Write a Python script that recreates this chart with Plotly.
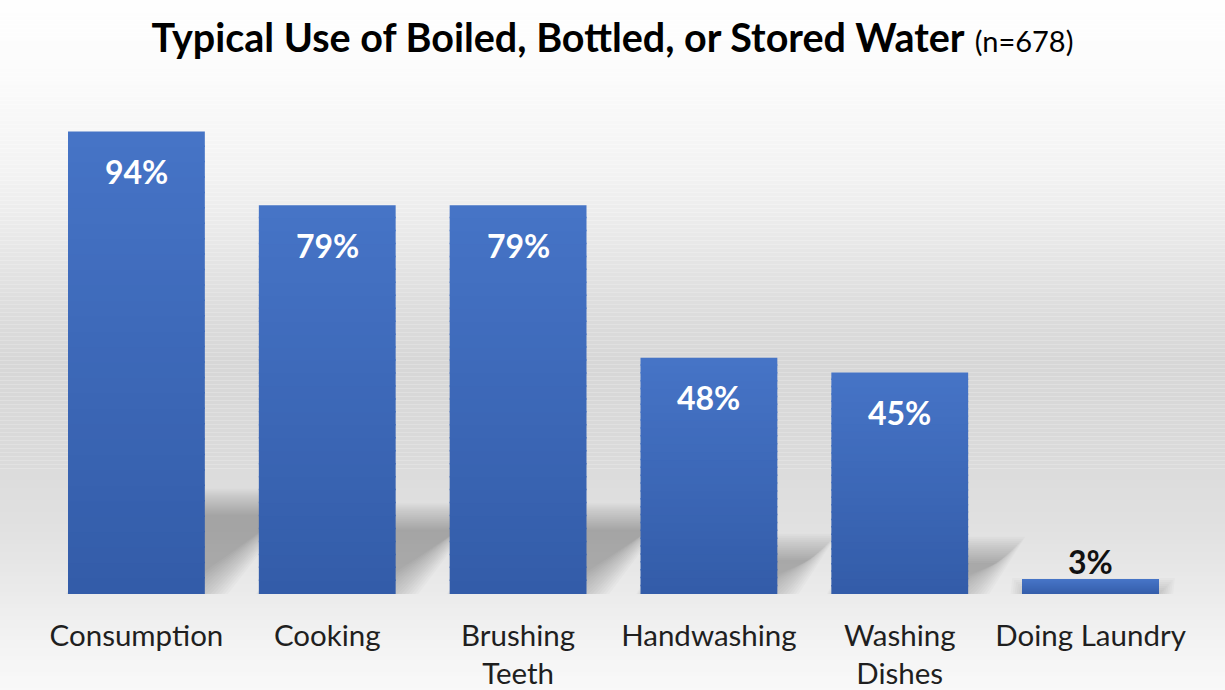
import plotly.graph_objects as go

# ---- data ----
categories = ["Consumption", "Cooking", "Brushing<br>Teeth", "Handwashing",
              "Washing<br>Dishes", "Doing Laundry"]
percent = [94, 79, 79, 48, 45, 3]
title_main = "Typical Use of Boiled, Bottled, or Stored Water"
title_note = "(n=678)"

# ---- geometry / style ----
W, H = 1225, 690
M_L, M_R, M_T, M_B = 41, 38.5, 101.5, 96
Y_MAX = 100
BAR_W = 0.717
FONT = "Lato"
TOP_RGB = (70, 116, 199)
BOT_RGB = (51, 92, 168)
N_SEG = 30

plot_w = W - M_L - M_R
plot_h = H - M_T - M_B
px_x = plot_w / len(categories)      # pixels per category unit
px_y = plot_h / Y_MAX                # pixels per percent

xs = list(range(len(categories)))

fig = go.Figure()

# bars with a vertical gradient: each bar split into thin stacked slices;
# every slice reaches slightly into the next one so no seams show
overlap = 1.5 / px_y
for s in range(N_SEG):
    t = (s + 0.5) / N_SEG  # 0 bottom -> 1 top
    r = round(BOT_RGB[0] + (TOP_RGB[0] - BOT_RGB[0]) * t)
    g = round(BOT_RGB[1] + (TOP_RGB[1] - BOT_RGB[1]) * t)
    b = round(BOT_RGB[2] + (TOP_RGB[2] - BOT_RGB[2]) * t)
    extra = overlap if s < N_SEG - 1 else 0
    fig.add_trace(go.Bar(
        x=xs,
        y=[min(v / N_SEG + extra, v - v * s / N_SEG) for v in percent],
        base=[v * s / N_SEG for v in percent],
        width=BAR_W,
        marker=dict(color=f"rgb({r},{g},{b})", line=dict(width=0)),
        hoverinfo="skip",
        showlegend=False,
    ))

shapes = []

# page background: vertical grey gradient (light top, darker middle, light bottom)
stops = [(0, 254), (80, 251), (170, 243), (240, 232), (300, 222), (360, 215),
         (450, 218), (530, 225), (600, 236), (650, 244), (690, 249)]


def grey_at(ypx):
    for (y0, c0), (y1, c1) in zip(stops[:-1], stops[1:]):
        if y0 <= ypx <= y1:
            return c0 + (c1 - c0) * (ypx - y0) / (y1 - y0)
    return stops[-1][1]


step = 4
for y in range(0, H, step):
    c = round(grey_at(y + step / 2))
    shapes.append(dict(
        type="rect", xref="paper", yref="paper", layer="below",
        x0=-0.1, x1=1.1,
        y0=(H - M_B - (y + step)) / plot_h,
        y1=(H - M_B - y) / plot_h,
        fillcolor=f"rgb({c},{c},{c})", line=dict(width=0),
    ))

# soft perspective shadow cast up and to the right of each bar
K = 0.2
LAYERS = 14
for i, v in zip(xs, percent):
    sh = K * v
    dxd = sh * px_y / px_x
    x0, x1 = i - BAR_W / 2, i + BAR_W / 2
    for j in range(LAYERS):
        e = -13 + 26 * j / (LAYERS - 1)
        ex, ey = e / px_x, e / px_y
        path = (f"M {x0 - ex},{-ey} L {x1 + ex},{-ey} "
                f"L {x1 + dxd + ex},{sh + ey} L {x0 + dxd - ex},{sh + ey} Z")
        shapes.append(dict(
            type="path", xref="x", yref="y", layer="below", path=path,
            fillcolor="rgba(0,0,0,0.018)", line=dict(width=0),
        ))

# value labels: inside the bar near its top, or above it for short bars
annotations = []
for i, v in zip(xs, percent):
    inside = v >= 10
    annotations.append(dict(
        x=i, y=v, xref="x", yref="y", text=f"<b>{v}%</b>", showarrow=False,
        yanchor="middle", yshift=-40 if inside else 18,
        font=dict(family=FONT, size=32, color="white" if inside else "#111111"),
    ))

fig.update_layout(
    width=W, height=H,
    margin=dict(l=M_L, r=M_R, t=M_T, b=M_B, pad=0, autoexpand=False),
    paper_bgcolor="white",
    plot_bgcolor="rgba(0,0,0,0)",
    barmode="overlay",
    title=dict(
        text=f"<b>{title_main}</b> <span style='font-size:29px'>{title_note}</span>",
        x=0.5, xref="container", xanchor="center",
        y=1 - 38 / H, yref="container", yanchor="middle",
        font=dict(family=FONT, size=39.5, color="#000000"),
    ),
    xaxis=dict(
        range=[-0.5, len(categories) - 0.5],
        tickmode="array", tickvals=xs, ticktext=categories,
        showgrid=False, zeroline=False, showline=False, ticks="",
        ticklabelstandoff=21, automargin=False,
        tickfont=dict(family=FONT, size=29.5, color="#1f1f1f"),
        fixedrange=True,
    ),
    yaxis=dict(
        range=[0, Y_MAX], visible=False, showgrid=False, zeroline=False,
        automargin=False, fixedrange=True,
    ),
    shapes=shapes,
    annotations=annotations,
    showlegend=False,
)

fig.write_html("out.html")
